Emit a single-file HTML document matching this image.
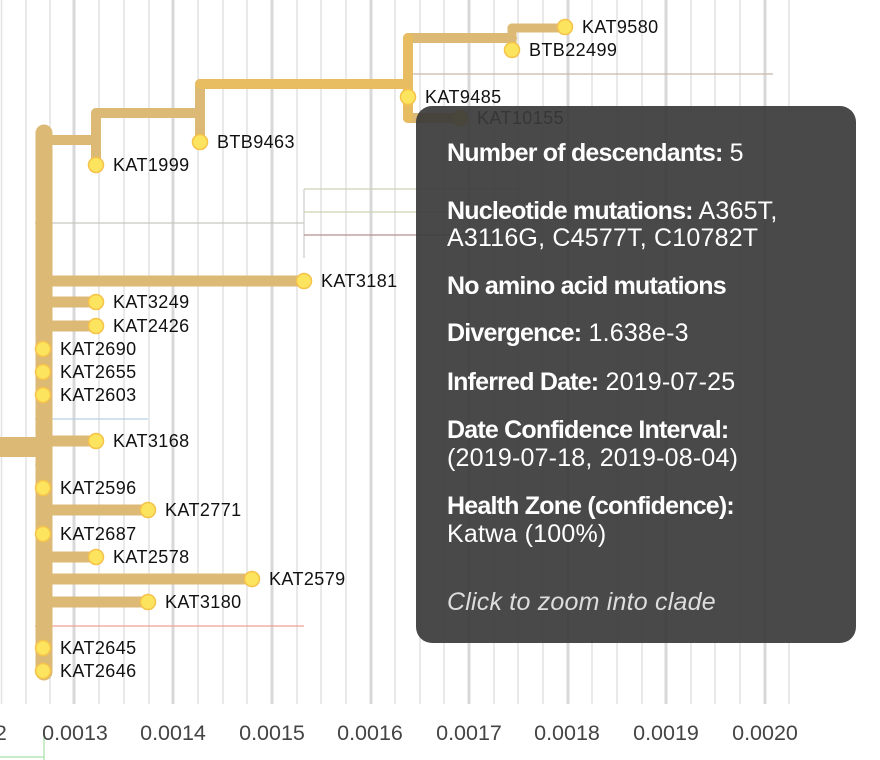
<!DOCTYPE html>
<html><head><meta charset="utf-8"><style>
html,body{margin:0;padding:0;background:#fff;width:880px;height:760px;overflow:hidden}
svg{display:block}
.lbl{font-family:"Liberation Sans",sans-serif;font-size:18px;fill:#111;letter-spacing:0.4px}
.ax{font-family:"Liberation Sans",sans-serif;font-size:21.5px;fill:#444;text-anchor:middle}
.tt{font-family:"Liberation Sans",sans-serif;font-size:25px;fill:#fff;letter-spacing:0.2px}
.tt .b{font-weight:bold;letter-spacing:-0.8px}
</style></head><body>
<svg width="880" height="760" viewBox="0 0 880 760" xmlns="http://www.w3.org/2000/svg">
<g stroke="#e2e2e2" stroke-width="1.5">
<line x1="1.5" y1="0" x2="1.5" y2="704"/><line x1="26" y1="0" x2="26" y2="704"/><line x1="50" y1="0" x2="50" y2="704"/>
<line x1="99" y1="0" x2="99" y2="704"/><line x1="124" y1="0" x2="124" y2="704"/><line x1="149" y1="0" x2="149" y2="704"/>
<line x1="198" y1="0" x2="198" y2="704"/><line x1="223" y1="0" x2="223" y2="704"/><line x1="247" y1="0" x2="247" y2="704"/>
<line x1="297" y1="0" x2="297" y2="704"/><line x1="321" y1="0" x2="321" y2="704"/><line x1="346" y1="0" x2="346" y2="704"/>
<line x1="395" y1="0" x2="395" y2="704"/><line x1="420" y1="0" x2="420" y2="704"/><line x1="444" y1="0" x2="444" y2="704"/>
<line x1="494" y1="0" x2="494" y2="704"/><line x1="518" y1="0" x2="518" y2="704"/><line x1="543" y1="0" x2="543" y2="704"/>
<line x1="592" y1="0" x2="592" y2="704"/><line x1="617" y1="0" x2="617" y2="704"/><line x1="642" y1="0" x2="642" y2="704"/>
<line x1="691" y1="0" x2="691" y2="704"/><line x1="715" y1="0" x2="715" y2="704"/><line x1="740" y1="0" x2="740" y2="704"/>
<line x1="789" y1="0" x2="789" y2="704"/>
</g>
<g stroke="#d8d8d8" stroke-width="3">
<line x1="74" y1="0" x2="74" y2="704"/><line x1="173" y1="0" x2="173" y2="704"/><line x1="272" y1="0" x2="272" y2="704"/>
<line x1="371" y1="0" x2="371" y2="704"/><line x1="469" y1="0" x2="469" y2="704"/><line x1="568" y1="0" x2="568" y2="704"/>
<line x1="666" y1="0" x2="666" y2="704"/><line x1="765" y1="0" x2="765" y2="704"/>
</g>
<g stroke-width="1.2" fill="none">
<line x1="35" y1="223" x2="304" y2="223" stroke="#c8c8c0"/>
<line x1="304" y1="189" x2="304" y2="258" stroke="#ccccc4"/>
<line x1="304" y1="189" x2="520" y2="189" stroke="#cfd0b8"/>
<line x1="304" y1="212" x2="520" y2="212" stroke="#c9d4b0"/>
<line x1="304" y1="235" x2="520" y2="235" stroke="#b89090"/>
<line x1="408" y1="74" x2="773" y2="74" stroke="#c8b8a8"/>
<line x1="35" y1="419" x2="148" y2="419" stroke="#b8d0e8"/>
<line x1="35" y1="465" x2="45" y2="465" stroke="#b8d0e8"/>
<line x1="35" y1="626" x2="304" y2="626" stroke="#f0a090"/>
<line x1="44" y1="735" x2="44" y2="760" stroke="#a8e0a8"/>
<line x1="0" y1="757" x2="44" y2="757" stroke="#a8e0a8"/>
</g>
<g stroke="#dcba76" stroke-linecap="round" fill="none">
<line x1="0" y1="447" x2="44" y2="447" stroke-width="20" stroke-linecap="butt"/>
<line x1="44" y1="133" x2="44" y2="672" stroke-width="17"/>
<line x1="44" y1="140" x2="96" y2="140" stroke-width="10"/>
<line x1="96" y1="113" x2="96" y2="165" stroke-width="10"/>
<line x1="96" y1="113" x2="200" y2="113" stroke-width="10"/>
<line x1="200" y1="84" x2="200" y2="142" stroke-width="10"/>
<line x1="44" y1="281" x2="304" y2="281" stroke-width="11"/>
<line x1="44" y1="302" x2="96" y2="302" stroke-width="11"/>
<line x1="44" y1="326" x2="96" y2="326" stroke-width="11"/>
<line x1="44" y1="441" x2="96" y2="441" stroke-width="11"/>
<line x1="44" y1="510" x2="148" y2="510" stroke-width="11"/>
<line x1="44" y1="557" x2="96" y2="557" stroke-width="11"/>
<line x1="44" y1="579" x2="252" y2="579" stroke-width="11"/>
<line x1="44" y1="602" x2="148" y2="602" stroke-width="11"/>
<line x1="408" y1="118" x2="460" y2="118" stroke-width="10"/>
<line x1="408" y1="38" x2="512" y2="38" stroke-width="10"/>
<line x1="512" y1="28" x2="512" y2="50" stroke-width="9"/>
<line x1="512" y1="28" x2="565" y2="28" stroke-width="9"/>
</g>
<g stroke="#e8bc60" stroke-linecap="round" fill="none">
<line x1="200" y1="84" x2="408" y2="84" stroke-width="10"/>
<line x1="408" y1="38" x2="408" y2="118" stroke-width="10"/>
</g>
<g fill="#fde45e" stroke="#f5c24a" stroke-width="1.5">
<circle cx="96" cy="165" r="7.5"/><circle cx="200" cy="142" r="7.5"/>
<circle cx="565" cy="27" r="7.5"/><circle cx="512" cy="50" r="7.5"/><circle cx="408" cy="97" r="7.5"/><circle cx="460" cy="118" r="7.5"/>
<circle cx="304" cy="281" r="7.5"/><circle cx="96" cy="302" r="7.5"/><circle cx="96" cy="326" r="7.5"/>
<circle cx="43" cy="349" r="7.5"/><circle cx="43" cy="372" r="7.5"/><circle cx="43" cy="395" r="7.5"/>
<circle cx="96" cy="441" r="7.5"/><circle cx="43" cy="488" r="7.5"/><circle cx="148" cy="510" r="7.5"/>
<circle cx="43" cy="534" r="7.5"/><circle cx="96" cy="557" r="7.5"/><circle cx="252" cy="579" r="7.5"/>
<circle cx="148" cy="602" r="7.5"/><circle cx="43" cy="648" r="7.5"/><circle cx="43" cy="671" r="7.5"/>
</g>
<g class="lbl">
<text x="113" y="171">KAT1999</text><text x="217" y="148">BTB9463</text>
<text x="582" y="33">KAT9580</text><text x="529" y="56">BTB22499</text><text x="425" y="103">KAT9485</text><text x="477" y="124">KAT10155</text>
<text x="321" y="287">KAT3181</text><text x="113" y="308">KAT3249</text><text x="113" y="332">KAT2426</text>
<text x="60" y="355">KAT2690</text><text x="60" y="378">KAT2655</text><text x="60" y="401">KAT2603</text>
<text x="113" y="447">KAT3168</text><text x="60" y="494">KAT2596</text><text x="165" y="516">KAT2771</text>
<text x="60" y="540">KAT2687</text><text x="113" y="563">KAT2578</text><text x="269" y="585">KAT2579</text>
<text x="165" y="608">KAT3180</text><text x="60" y="654">KAT2645</text><text x="60" y="677">KAT2646</text>
</g>
<g class="ax">
<text x="-26" y="740">0.0012</text><text x="75" y="740">0.0013</text><text x="173" y="740">0.0014</text><text x="272" y="740">0.0015</text>
<text x="370" y="740">0.0016</text><text x="469" y="740">0.0017</text><text x="567" y="740">0.0018</text><text x="666" y="740">0.0019</text><text x="765" y="740">0.0020</text>
</g>
<rect x="416" y="106" width="440" height="537" rx="16" fill="#3a3a3a" fill-opacity="0.92"/>
<g class="tt">
<text x="447" y="161"><tspan class="b">Number of descendants:</tspan> 5</text>
<text x="447" y="219"><tspan class="b">Nucleotide mutations:</tspan> A365T,</text>
<text x="447" y="246">A3116G, C4577T, C10782T</text>
<text x="447" y="294"><tspan class="b">No amino acid mutations</tspan></text>
<text x="447" y="341"><tspan class="b">Divergence:</tspan> 1.638e-3</text>
<text x="447" y="390"><tspan class="b">Inferred Date:</tspan> 2019-07-25</text>
<text x="447" y="438"><tspan class="b">Date Confidence Interval:</tspan></text>
<text x="447" y="466">(2019-07-18, 2019-08-04)</text>
<text x="447" y="514"><tspan class="b">Health Zone (confidence):</tspan></text>
<text x="447" y="542">Katwa (100%)</text>
<text x="447" y="610" font-style="italic" fill="#ddd">Click to zoom into clade</text>
</g>
</svg>
</body></html>
